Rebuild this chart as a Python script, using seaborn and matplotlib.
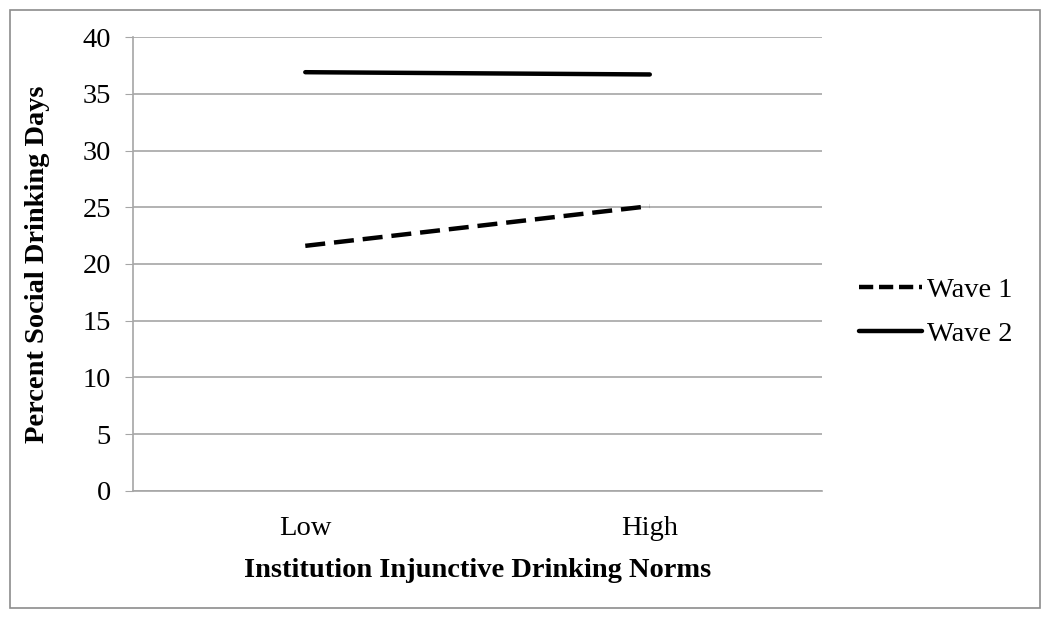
import pandas as pd
import matplotlib.pyplot as plt
import matplotlib.patches as mpatches
import seaborn as sns

categories = ['Low', 'High']
wave1 = [21.6, 25.1]
wave2 = [36.9, 36.7]
series_names = ['Wave 1', 'Wave 2']

df = pd.DataFrame({
    'norms': categories * 2,
    'value': wave1 + wave2,
    'wave': [series_names[0]] * 2 + [series_names[1]] * 2,
})

sns.set_style('white')
plt.rcParams['font.family'] = ['Liberation Serif', 'DejaVu Serif']
plt.rcParams['text.color'] = 'black'
plt.rcParams['axes.labelcolor'] = 'black'
plt.rcParams['xtick.labelcolor'] = 'black'
plt.rcParams['ytick.labelcolor'] = 'black'

grid_col = '#a6a6a6'
fs = 20.5

fig = plt.figure(figsize=(10.5, 6.2), dpi=100)
ax = fig.add_axes([0.1267, 0.2081, 0.7829 - 0.1267, 0.9403 - 0.2081])

sns.lineplot(
    data=df, x='norms', y='value', style='wave',
    dashes={'Wave 1': (4.5, 2), 'Wave 2': ''},
    color='black', linewidth=3.2, ax=ax, legend=False, sort=False
)

ax.set_ylim(0, 40)
ax.set_yticks(range(0, 41, 5))
ax.set_xlim(-0.5, 1.5)
ax.set_xticks([0, 1])
ax.set_xticklabels(categories)
ax.set_xticks([-0.5, 0.5, 1.5], minor=True)
ax.tick_params(axis='x', which='major', length=0, pad=18, labelsize=fs, labelcolor='black')
ax.tick_params(axis='x', which='minor', length=6, color=grid_col, direction='out')
ax.tick_params(axis='y', length=6, color=grid_col, direction='out', left=True,
               labelsize=fs, pad=10, labelcolor='black')

ax.yaxis.grid(True, color=grid_col, linewidth=1.2)
ax.xaxis.grid(False)
for side in ['top', 'right']:
    ax.spines[side].set_visible(False)
for side in ['left', 'bottom']:
    ax.spines[side].set_color(grid_col)
    ax.spines[side].set_linewidth(1.2)

ax.set_xlabel('Institution Injunctive Drinking Norms', fontsize=fs, fontweight='bold',
              labelpad=12, color='black')
ax.set_ylabel('Percent Social Drinking Days', fontsize=fs, fontweight='bold',
              labelpad=23, color='black')

handles = [
    plt.Line2D([], [], color='black', linewidth=3.2, dashes=(3.2, 1.3)),
    plt.Line2D([], [], color='black', linewidth=3.2),
]
fig.legend(handles, series_names, loc='center left', bbox_to_anchor=(0.818, 0.497),
           frameon=False, fontsize=fs, handlelength=2.2, handletextpad=0.2,
           labelspacing=0.64, borderaxespad=0, borderpad=0)

fig.patches.append(mpatches.Rectangle((10 / 1050, 1 - 608 / 620), 1030 / 1050, 598 / 620,
                                      transform=fig.transFigure, fill=False,
                                      edgecolor='#8c8c8c', linewidth=1.2))

plt.savefig('out.png', dpi=100)
